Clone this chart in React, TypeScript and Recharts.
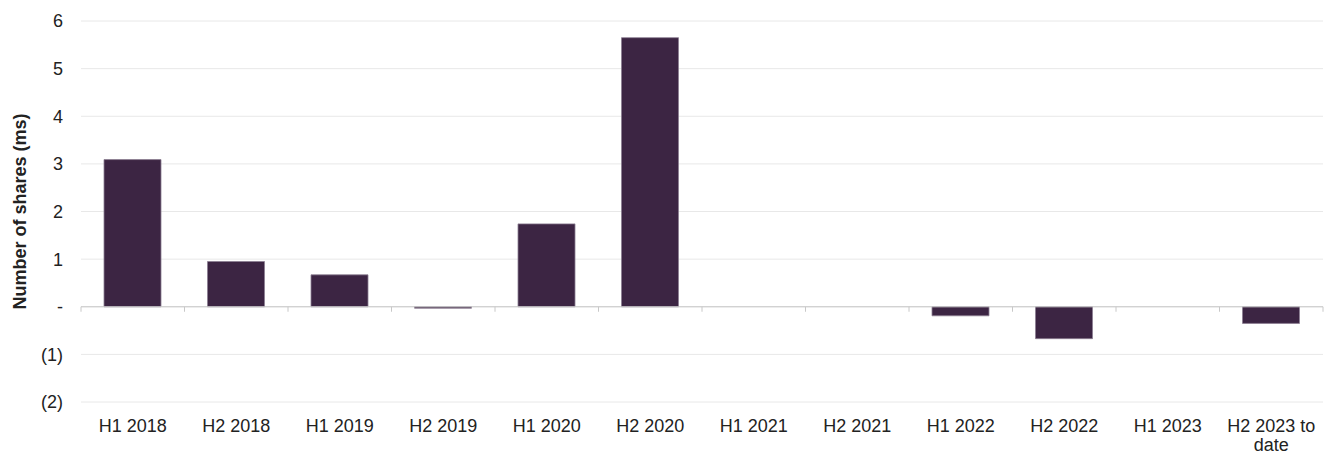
import React from 'react';
import { BarChart, Bar, XAxis, YAxis, CartesianGrid, ReferenceLine } from 'recharts';

const periods = [
  'H1 2018', 'H2 2018', 'H1 2019', 'H2 2019', 'H1 2020', 'H2 2020',
  'H1 2021', 'H2 2021', 'H1 2022', 'H2 2022', 'H1 2023', 'H2 2023 to date',
];
const shares = [3.09, 0.95, 0.67, -0.03, 1.74, 5.65, 0, 0, -0.19, -0.67, 0, -0.35];
const yTicks = [-2, -1, 0, 1, 2, 3, 4, 5, 6];

const data = periods.map((period, i) => ({ period, shares: shares[i] }));

const fmt = (v: number) => (v === 0 ? '-' : v < 0 ? `(${Math.abs(v)})` : `${v}`);

const FONT = '"Liberation Sans", Arial, sans-serif';

function PeriodTick(props: any) {
  const { x, y, payload } = props;
  const words = String(payload.value).split(' ');
  const lines = words.length > 2 ? [words.slice(0, -1).join(' '), words[words.length - 1]] : [payload.value];
  return (
    <text x={x} y={y} textAnchor="middle" fill="#222" fontSize={18} fontFamily={FONT}>
      {lines.map((l, i) => (
        <tspan key={i} x={x} dy={i === 0 ? 22 : 19}>{l}</tspan>
      ))}
    </text>
  );
}

function YLabel(props: any) {
  const { viewBox } = props;
  const cx = viewBox.x + 12;
  const cy = viewBox.y + viewBox.height / 2;
  return (
    <text
      x={cx}
      y={cy}
      transform={`rotate(-90, ${cx}, ${cy})`}
      textAnchor="middle"
      dominantBaseline="central"
      fontSize={18}
      fontWeight="bold"
      fill="#222"
      fontFamily={FONT}
    >
      Number of shares (ms)
    </text>
  );
}

// zero axis line with category boundary ticks
function ZeroAxis(props: any) {
  const { x1, y1, x2 } = props;
  const step = (x2 - x1) / periods.length;
  return (
    <g stroke="#c8c8c8" strokeWidth={1}>
      <line x1={x1} y1={y1} x2={x2} y2={y1} />
      {periods.map((_, i) => (
        <line key={i} x1={x1 + i * step} y1={y1} x2={x1 + i * step} y2={y1 + 5} />
      ))}
      <line x1={x2} y1={y1} x2={x2} y2={y1 + 5} />
    </g>
  );
}

export default function App() {
  return (
    <BarChart
      width={1323}
      height={444}
      data={data}
      margin={{ top: 13, right: 8, bottom: 0, left: 0 }}
      style={{ fontFamily: FONT }}
    >
      <CartesianGrid vertical={false} stroke="#e8e8e8" />
      <XAxis
        dataKey="period"
        axisLine={false}
        tickLine={false}
        interval={0}
        height={50}
        tick={<PeriodTick />}
      />
      <YAxis
        domain={[-2, 6]}
        ticks={yTicks}
        tickFormatter={fmt}
        axisLine={false}
        tickLine={false}
        width={73}
        tickMargin={12}
        tick={{ fontSize: 18, fill: '#222', fontFamily: FONT }}
        label={<YLabel />}
      />
      <ReferenceLine y={0} shape={<ZeroAxis />} />
      <Bar
        dataKey="shares"
        fill="#3c2543"
        stroke="#8c7d92"
        strokeWidth={0.8}
        barSize={57}
        isAnimationActive={false}
      />
    </BarChart>
  );
}
